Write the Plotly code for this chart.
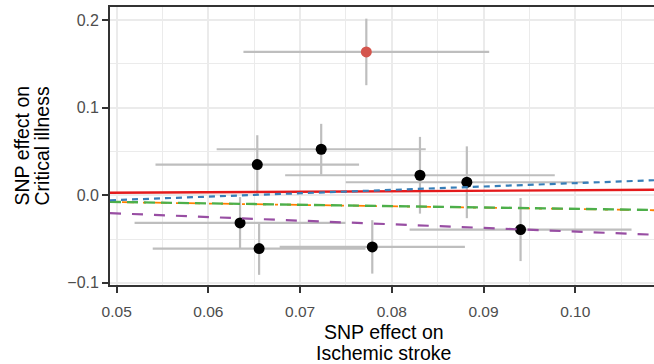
import plotly.graph_objects as go

# ---------------- data ----------------
snp_effect_exposure = [0.07722, 0.0723, 0.06533, 0.08307, 0.08818, 0.06345, 0.06553, 0.07787, 0.09404]
snp_effect_outcome = [0.1636, 0.0525, 0.035, 0.0228, 0.0148, -0.0316, -0.0609, -0.059, -0.0392]
exposure_ci_half = [0.0134, 0.0114, 0.0111, 0.0147, 0.0132, 0.0115, 0.0116, 0.0101, 0.0121]
outcome_ci_half = [0.038, 0.029, 0.0335, 0.0438, 0.041, 0.0295, 0.030, 0.0305, 0.036]
is_outlier = [True, False, False, False, False, False, False, False, False]

method_names = ["Inverse variance weighted", "Simple mode", "Weighted median", "MR Egger", "Weighted mode"]
method_intercepts = [0.0, 0.0, 0.0, -0.0247, 0.0]
method_slopes = [0.057, -0.158, -0.155, 0.385, -0.415]

x_ticks = [0.05, 0.06, 0.07, 0.08, 0.09, 0.10]
y_ticks = [-0.1, 0.0, 0.1, 0.2]

# ---------------- styles ----------------
method_styles = {
    "Inverse variance weighted": dict(color="#E41A1C", dash="solid", width=2.4),
    "Simple mode": dict(color="#FF7F00", dash="3px,9px,12px,9px", width=1.8),
    "Weighted median": dict(color="#4DAF4A", dash="11px,6px", width=2.4),
    "MR Egger": dict(color="#377EB8", dash="6px,5px", width=2.2),
    "Weighted mode": dict(color="#984EA3", dash="11px,11px", width=2.2),
}

W, H = 654, 364
ML, MR, MT, MB = 110, 0, 7, 79
PW, PH = W - ML - MR, H - MT - MB
X_RANGE = [0.04927, 0.10859]
Y_RANGE = [-0.1025, 0.2149]

def px_x(p):
    return (p - ML) / PW

def px_y(p):
    return (H - MB - p) / PH

fig = go.Figure()

fig.add_trace(go.Scatter(
    x=snp_effect_exposure, y=snp_effect_outcome, mode="markers",
    marker=dict(size=11, color=["#D4554D" if o else "#000000" for o in is_outlier],
                line=dict(width=0)),
    error_x=dict(type="data", array=exposure_ci_half, color="#BEBEBE", thickness=2.2, width=0),
    error_y=dict(type="data", array=outcome_ci_half, color="#BEBEBE", thickness=2.2, width=0),
    showlegend=False, hoverinfo="skip",
))

for name, a, b in zip(method_names, method_intercepts, method_slopes):
    xs = list(X_RANGE)
    ys = [a + b * x for x in xs]
    st = method_styles[name]
    fig.add_trace(go.Scatter(
        x=xs, y=ys, mode="lines", name=name,
        line=dict(color=st["color"], dash=st["dash"], width=st["width"]),
        showlegend=False, hoverinfo="skip",
    ))

font_family = "Liberation Sans, Arial, sans-serif"
grid = "#EBEBEB"
dark = "#333333"

fig.update_layout(
    width=W, height=H,
    margin=dict(l=ML, r=MR, t=MT, b=MB, pad=0),
    paper_bgcolor="white", plot_bgcolor="white",
    font=dict(family=font_family, color="#4D4D4D", size=15.5),
    showlegend=False,
    xaxis=dict(
        range=X_RANGE, tickvals=x_ticks, ticktext=[f"{v:.2f}" for v in x_ticks],
        showgrid=True, gridcolor=grid, gridwidth=2,
        minor=dict(dtick=0.005, tick0=0, showgrid=True, gridcolor=grid, gridwidth=1, ticks=""),
        zeroline=False, showline=True, linecolor=dark, linewidth=1.7, mirror=True,
        ticks="outside", ticklen=6, tickwidth=1.7, tickcolor=dark,
        ticklabelstandoff=6,
        tickfont=dict(size=15.5, color="#4D4D4D"),
    ),
    yaxis=dict(
        range=Y_RANGE, tickvals=y_ticks, ticktext=["\u22120.1", "0.0", "0.1", "0.2"],
        showgrid=True, gridcolor=grid, gridwidth=2,
        minor=dict(dtick=0.05, tick0=0, showgrid=True, gridcolor=grid, gridwidth=1, ticks=""),
        zeroline=False, showline=True, linecolor=dark, linewidth=1.7, mirror=False,
        ticks="outside", ticklen=6, tickwidth=1.7, tickcolor=dark,
        tickfont=dict(size=16, color="#4D4D4D"),
    ),
    annotations=[
        dict(text="SNP effect on", x=px_x(383.5), y=px_y(331.5), xref="paper", yref="paper",
             xanchor="center", yanchor="middle", showarrow=False,
             font=dict(size=19.5, color="black", family=font_family)),
        dict(text="Ischemic stroke", x=px_x(383.5), y=px_y(352.5), xref="paper", yref="paper",
             xanchor="center", yanchor="middle", showarrow=False,
             font=dict(size=19.5, color="black", family=font_family)),
        dict(text="SNP effect on", x=px_x(21.5), y=px_y(146), xref="paper", yref="paper",
             xanchor="center", yanchor="middle", showarrow=False, textangle=-90,
             font=dict(size=19.5, color="black", family=font_family)),
        dict(text="Critical illness", x=px_x(41.5), y=px_y(146), xref="paper", yref="paper",
             xanchor="center", yanchor="middle", showarrow=False, textangle=-90,
             font=dict(size=19.5, color="black", family=font_family)),
    ],
)

fig.write_html("out.html", config={"displayModeBar": False},
               post_script="document.body.style.margin='0';document.body.style.padding='0';")
